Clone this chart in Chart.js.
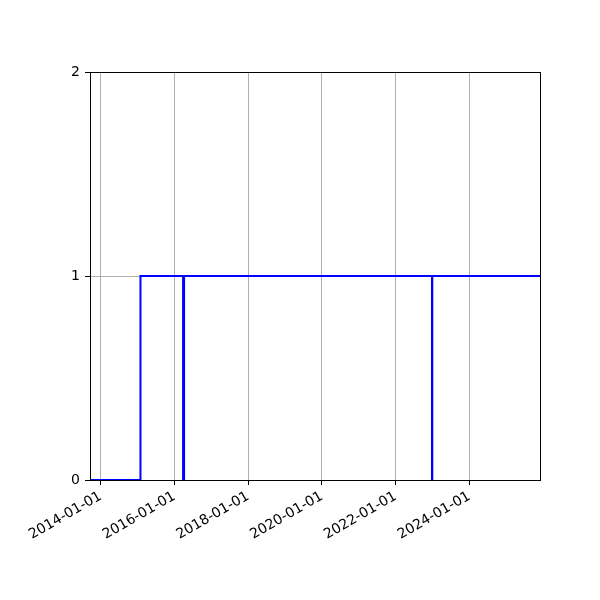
<!DOCTYPE html>
<html>
<head>
<meta charset="utf-8">
<script src="https://cdn.jsdelivr.net/npm/chart.js@4.4.0/dist/chart.umd.min.js"></script>
<style>
  html, body { margin: 0; padding: 0; background: #fff; }
  #wrap { width: 600px; height: 600px; }
</style>
</head>
<body>
<div id="wrap"><canvas id="chart" width="600" height="600"></canvas></div>
<script>
  // step series (value holds until the next date)
  const stepDates = ["2013-09-17", "2015-01-30", "2016-03-27", "2016-04-06", "2022-12-27", "2022-12-30", "2025-12-01"];
  const stepValues = [0, 1, 0, 1, 0, 1, 1];

  const xRange = ["2013-09-17", "2025-12-01"];
  const xTickLabels = ["2014-01-01", "2016-01-01", "2018-01-01", "2020-01-01", "2022-01-01", "2024-01-01"];
  const yTickValues = [0, 1, 2];

  const toMs = (s) => Date.parse(s + "T00:00:00Z");
  const fmtDate = (v) => new Date(v).toISOString().slice(0, 10);

  const FONT = { family: "DejaVu Sans", size: 14 };

  // top/right spines like a boxed axes
  const framePlugin = {
    id: "frame",
    afterDatasetsDraw(chart) {
      const a = chart.chartArea;
      const ctx = chart.ctx;
      ctx.save();
      ctx.strokeStyle = "#000";
      ctx.lineWidth = 1;
      ctx.strokeRect(Math.round(a.left) + 0.5, Math.round(a.top) + 0.5,
        Math.round(a.right - a.left), Math.round(a.bottom - a.top));
      ctx.restore();
    },
  };

  new Chart(document.getElementById("chart"), {
    type: "line",
    data: {
      datasets: [
        {
          data: stepDates.map((d, i) => ({ x: toMs(d), y: stepValues[i] })),
          stepped: true,
          borderColor: "#0000ff",
          borderWidth: 2,
          pointRadius: 0,
          fill: false,
        },
      ],
    },
    options: {
      responsive: false,
      animation: false,
      devicePixelRatio: 1,
      layout: { padding: { top: 72, right: 60, left: 0, bottom: 0 } },
      plugins: { legend: { display: false }, tooltip: { enabled: false } },
      scales: {
        x: {
          type: "linear",
          min: toMs(xRange[0]),
          max: toMs(xRange[1]),
          afterBuildTicks(scale) {
            scale.ticks = xTickLabels.map((s) => ({ value: toMs(s) }));
          },
          afterFit(scale) {
            scale.height = 120;
            scale.paddingLeft = 0;
            scale.paddingRight = 0;
          },
          grid: { color: "#b0b0b0", lineWidth: 1, tickColor: "#000", tickLength: 5 },
          border: { display: false },
          ticks: {
            autoSkip: false,
            minRotation: 30,
            maxRotation: 30,
            padding: 3,
            color: "#000",
            font: FONT,
            callback: (v) => fmtDate(v),
          },
        },
        y: {
          type: "linear",
          min: yTickValues[0],
          max: yTickValues[yTickValues.length - 1],
          afterBuildTicks(scale) {
            scale.ticks = yTickValues.map((v) => ({ value: v }));
          },
          afterFit(scale) {
            scale.width = 90;
          },
          grid: { color: "#b0b0b0", lineWidth: 1, tickColor: "#000", tickLength: 5 },
          border: { display: false },
          ticks: { padding: 5, color: "#000", font: FONT },
        },
      },
    },
    plugins: [framePlugin],
  });
</script>
</body>
</html>
